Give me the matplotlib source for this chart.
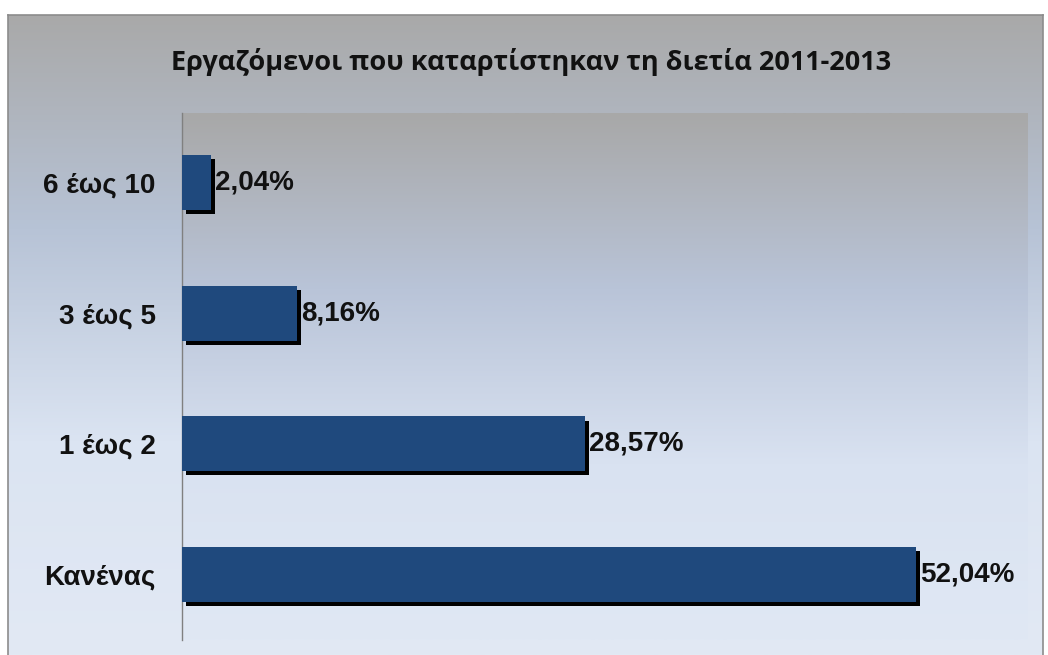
import numpy as np
import matplotlib
matplotlib.use("Agg")
import matplotlib.pyplot as plt
from matplotlib.colors import LinearSegmentedColormap
import matplotlib.patheffects as pe

# data
categories = ["Κανένας", "1 έως 2", "3 έως 5", "6 έως 10"]
values = [52.04, 28.57, 8.16, 2.04]
value_labels = ["52,04%", "28,57%", "8,16%", "2,04%"]
title = "Εργαζόμενοι που καταρτίστηκαν τη διετία 2011-2013"

W, H = 1048, 655
fig = plt.figure(figsize=(W / 100, H / 100), dpi=100)
fig.patch.set_facecolor("white")

grad = LinearSegmentedColormap.from_list("g", ["#a9a9a9", "#b7c3d6", "#dbe4f2", "#e2e9f4"])

# outer frame with gradient
frame_ax = fig.add_axes([8 / W, 0, (1043 - 8) / W, (H - 15) / H])
frame_ax.imshow(np.linspace(0, 1, 256).reshape(-1, 1), aspect="auto", cmap=grad,
                extent=[0, 1, 0, 1], origin="upper")
frame_ax.set_xticks([])
frame_ax.set_yticks([])
for s in frame_ax.spines.values():
    s.set_color("#8c8c8c")
    s.set_linewidth(1.2)
frame_ax.spines["bottom"].set_visible(False)

# plot area
left, right, top, bottom = 182, 1028, 113, 640
ax = fig.add_axes([left / W, 1 - bottom / H, (right - left) / W, (bottom - top) / H])
ax.set_xlim(0, 60)
ax.set_ylim(-0.5, 3.53)
ax.imshow(np.linspace(0, 1, 256).reshape(-1, 1), aspect="auto",
          cmap=LinearSegmentedColormap.from_list("p", ["#a8a8a8", "#b9c4d8", "#d9e2f1", "#e0e8f4"]),
          extent=[0, 60, -0.5, 3.53], origin="upper", zorder=0)

y = np.arange(len(categories))
ax.barh(y, values, height=0.42, color="#1f497d", zorder=3,
        path_effects=[pe.SimplePatchShadow(offset=(3, -3), shadow_rgbFace="black", alpha=1.0),
                      pe.Normal()])

for yi, v, lab in zip(y, values, value_labels):
    ax.text(v + 0.3, yi, lab, va="center", ha="left", fontsize=20, fontweight="bold",
            family="Liberation Sans", color="#111111", zorder=4)

ax.set_yticks(y)
ax.set_yticklabels(categories, fontsize=20, fontweight="bold", family="Liberation Sans",
                   color="#111111")
ax.tick_params(axis="y", length=0, pad=19)
ax.set_xticks([])
for s in ["top", "right", "bottom"]:
    ax.spines[s].set_visible(False)
ax.spines["left"].set_color("#808080")
ax.spines["left"].set_linewidth(1.0)

fig.text((172 + 890) / 2 / W, 1 - 62 / H, title, ha="center", va="center",
         fontsize=19.5, fontweight="bold", family="Open Sans", color="#111111")

fig.savefig("out.png", dpi=100)
